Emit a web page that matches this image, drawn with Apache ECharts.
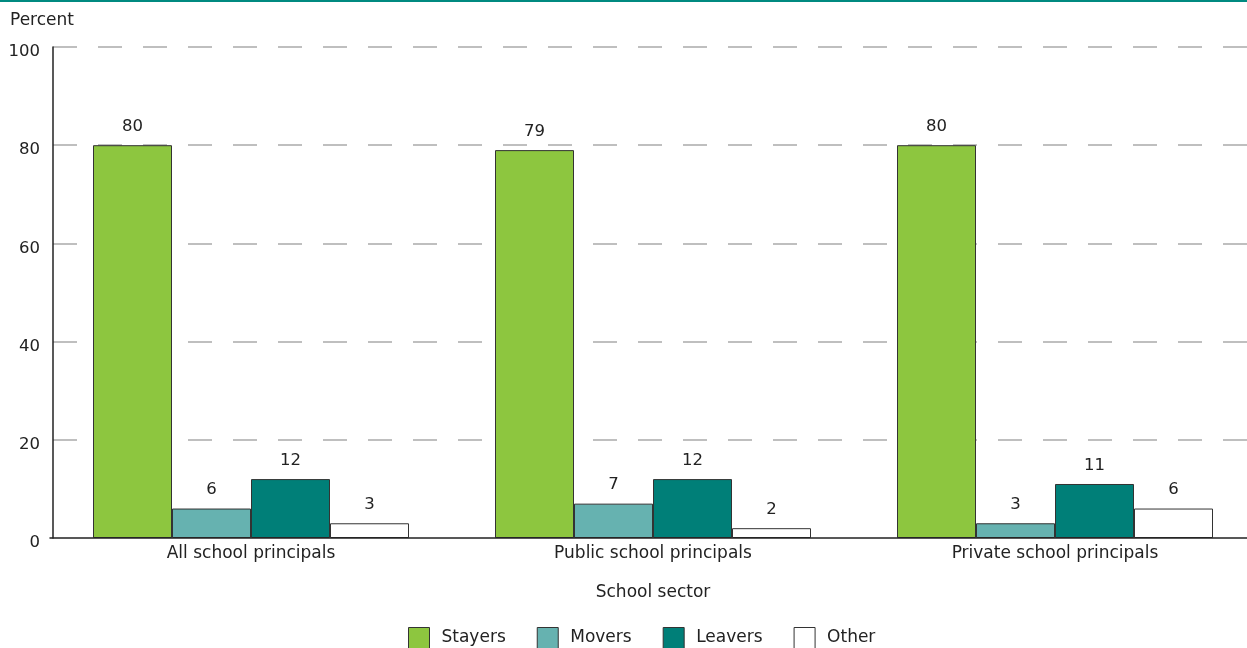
<!DOCTYPE html>
<html><head><meta charset="utf-8">
<script src="https://cdn.jsdelivr.net/npm/echarts@6/dist/echarts.min.js"></script>
<style>html,body{margin:0;padding:0;background:#fff;overflow:hidden}#c{width:1256px;height:648px}</style>
</head><body><div id="c"></div>
<script>
const categories = ['All school principals', 'Public school principals', 'Private school principals'];
const stayers = [80, 79, 80];
const movers = [6, 7, 3];
const leavers = [12, 12, 11];
const other = [3, 2, 6];
const seriesNames = ['Stayers', 'Movers', 'Leavers', 'Other'];
const yTicks = [0, 20, 40, 60, 80, 100];

const FONT = '"DejaVu Sans", sans-serif';
const colors = ['#8DC63F', '#66B2B0', '#007F78', '#FFFFFF'];
const data = [stayers, movers, leavers, other];

const chart = echarts.init(document.getElementById('c'));
chart.setOption({
  animation: false,
  textStyle: { fontFamily: FONT, color: '#222' },
  graphic: [
    { type: 'rect', left: 0, top: 0, shape: { width: 1256, height: 2 }, style: { fill: '#008A80' } },
    { type: 'text', left: 10, top: 12, style: { text: 'Percent', font: '17px ' + FONT, fill: '#222' } }
  ],
  grid: { left: 50, right: 0, top: 47, bottom: 110, containLabel: false },
  legend: {
    top: 622, left: 403, itemWidth: 21, itemHeight: 21, itemGap: 31,
    icon: 'rect',
    textStyle: { fontSize: 17, fontFamily: FONT, color: '#222', padding: [0, 0, 0, 7] },
    itemStyle: { borderColor: '#333', borderWidth: 1 },
    data: seriesNames
  },
  xAxis: {
    type: 'category', data: categories, z: 10,
    name: 'School sector', nameLocation: 'middle', nameGap: 46,
    nameTextStyle: { fontSize: 17, fontFamily: FONT, color: '#222' },
    axisLine: { lineStyle: { color: '#222', width: 1.5 } },
    axisTick: { show: false },
    axisLabel: { fontSize: 17, color: '#222', margin: 7 }
  },
  yAxis: {
    type: 'value', min: 0, max: 100, interval: 20, offset: -3,
    axisLine: { show: true, lineStyle: { color: '#222', width: 1.5 } },
    axisTick: { show: false },
    axisLabel: { fontSize: 16.5, color: '#222', margin: 13, verticalAlign: 'top', lineHeight: 10,
      formatter: v => yTicks.includes(v) ? String(v) : '' },
    splitLine: { show: true, showMinLine: false,
      lineStyle: { color: '#aaa', width: 1.5, type: [24, 21], dashOffset: 42 } }
  },
  series: seriesNames.map((n, i) => ({
    name: n, type: 'bar', data: data[i],
    barWidth: 79, barGap: '0%',
    itemStyle: { color: colors[i], borderColor: '#333', borderWidth: 1 },
    label: { show: true, position: 'top', distance: 10, fontSize: 16.5, color: '#222', fontFamily: FONT }
  }))
});
</script></body></html>
